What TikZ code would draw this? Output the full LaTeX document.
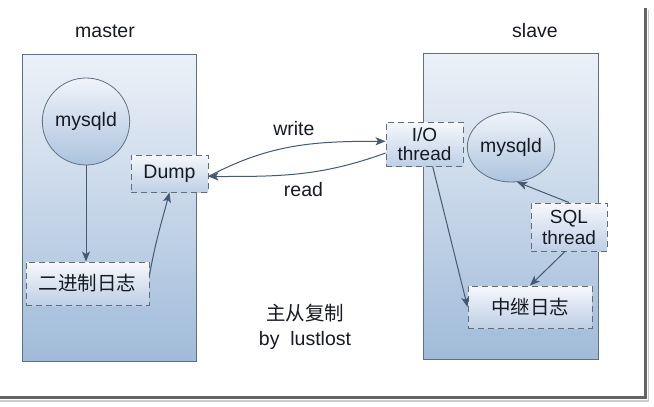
\documentclass[tikz,border=0pt]{standalone}
\usepackage{fontspec}
\setmainfont{Liberation Sans}
\newfontfamily\cjk{Noto Sans CJK SC}
\usepackage{tikz}
\usetikzlibrary{shapes, arrows, arrows.meta, calc, positioning}
\definecolor{boxtop}{RGB}{236,241,248}
\definecolor{boxbottom}{RGB}{160,187,217}
\definecolor{boxline}{RGB}{95,112,128}
\definecolor{dashtop}{RGB}{246,248,252}
\definecolor{dashbottom}{RGB}{190,207,230}
\definecolor{dashline}{RGB}{100,108,118}
\definecolor{balltop}{RGB}{240,244,250}
\definecolor{ballbottom}{RGB}{172,195,222}
\definecolor{flowline}{RGB}{68,90,114}
\definecolor{framegray}{RGB}{100,100,100}
\definecolor{txt}{RGB}{22,26,34}

\tikzset{
  hostbox/.style={draw=boxline, line width=0.8pt, top color=boxtop, bottom color=boxbottom, inner sep=0pt},
  procball/.style={ellipse, draw=boxline, line width=0.8pt, top color=balltop, bottom color=ballbottom, inner sep=0pt},
  dashbox/.style={draw=dashline, line width=0.9pt, dash pattern=on 6pt off 4pt, top color=dashtop, bottom color=dashbottom, inner sep=0pt, align=center},
  flow/.style={draw=flowline, line width=1pt, -{Stealth[length=10pt, width=8pt, inset=2.5pt]}},
}

\begin{document}
\begin{tikzpicture}[x=1pt, y=1pt, every node/.style={text=txt, font=\fontsize{19.5}{21}\selectfont}]
				\useasboundingbox (0,0) rectangle (654,-407);
				\fill[white] (0,0) rectangle (654,-407);
				% outer frame shadow
				\draw[framegray, line width=3pt] (0,-397.5) -- (645,-397.5) -- (645,-8);
				\draw[gray!40, line width=1.2pt] (0,-401) -- (648.5,-401) -- (648.5,-10);
				
				% master side
				\node (mlabel) at (105,-31) {master};
				\node[hostbox, minimum width=174pt, minimum height=307pt] (mbox) at (109,-207.5) {};
				\node[procball, minimum width=78pt, minimum height=87pt] (mmysqld) at (86,-121.5) {mysqld};
				\node[dashbox, minimum width=77pt, minimum height=37pt] (dump) at (169.5,-173.5) {Dump};
				\node[dashbox, minimum width=123pt, minimum height=43pt] (binlog) at (87.5,-283.5) {\cjk 二进制日志};
				
				% slave side
				\node (slabel) at (535,-31) {slave};
				\node[hostbox, minimum width=175pt, minimum height=306pt] (sbox) at (510.5,-206) {};
				\node[procball, minimum width=86pt, minimum height=70pt] (smysqld) at (511,-147) {mysqld};
				\node[dashbox, minimum width=77pt, minimum height=44pt, font=\fontsize{19}{19.5}\selectfont] (iothread) at (424.5,-144) {I/O\\thread};
				\node[dashbox, minimum width=76pt, minimum height=48pt, font=\fontsize{19}{21}\selectfont] (sqlthread) at (569,-227) {SQL\\thread};
				\node[dashbox, minimum width=124pt, minimum height=42pt] (relaylog) at (530,-307) {\cjk 中继日志};
				
				% caption
				\node (title) at (305,-313) {\cjk 主从复制};
				\node (author) at (305,-340) {by\ \ lustlost};
				
				% connectors
				\draw[flow] (mmysqld.south) -- (binlog.north -| mmysqld.south);
				\draw[flow] ($(binlog.east)+(0,8)$) to[out=80, in=-105] (dump.south);
				\draw[flow] ($(dump.east)+(0,-3)$) to[out=28, in=180] node[above=7pt, pos=0.5] (wlabel) {write} (iothread.176);
				\draw[flow] (iothread.193) to[out=200, in=0] node[below=5pt, pos=0.47] (rlabel) {read} ($(dump.east)+(0,-3)$);
				\draw[flow] (iothread.-70) -- (relaylog.west);
				\draw[flow] (sqlthread.north) -- (smysqld.-80);
				\draw[flow] ($(sqlthread.south)+(-4,0)$) -- (relaylog.north);
				\end{tikzpicture}
\end{document}
